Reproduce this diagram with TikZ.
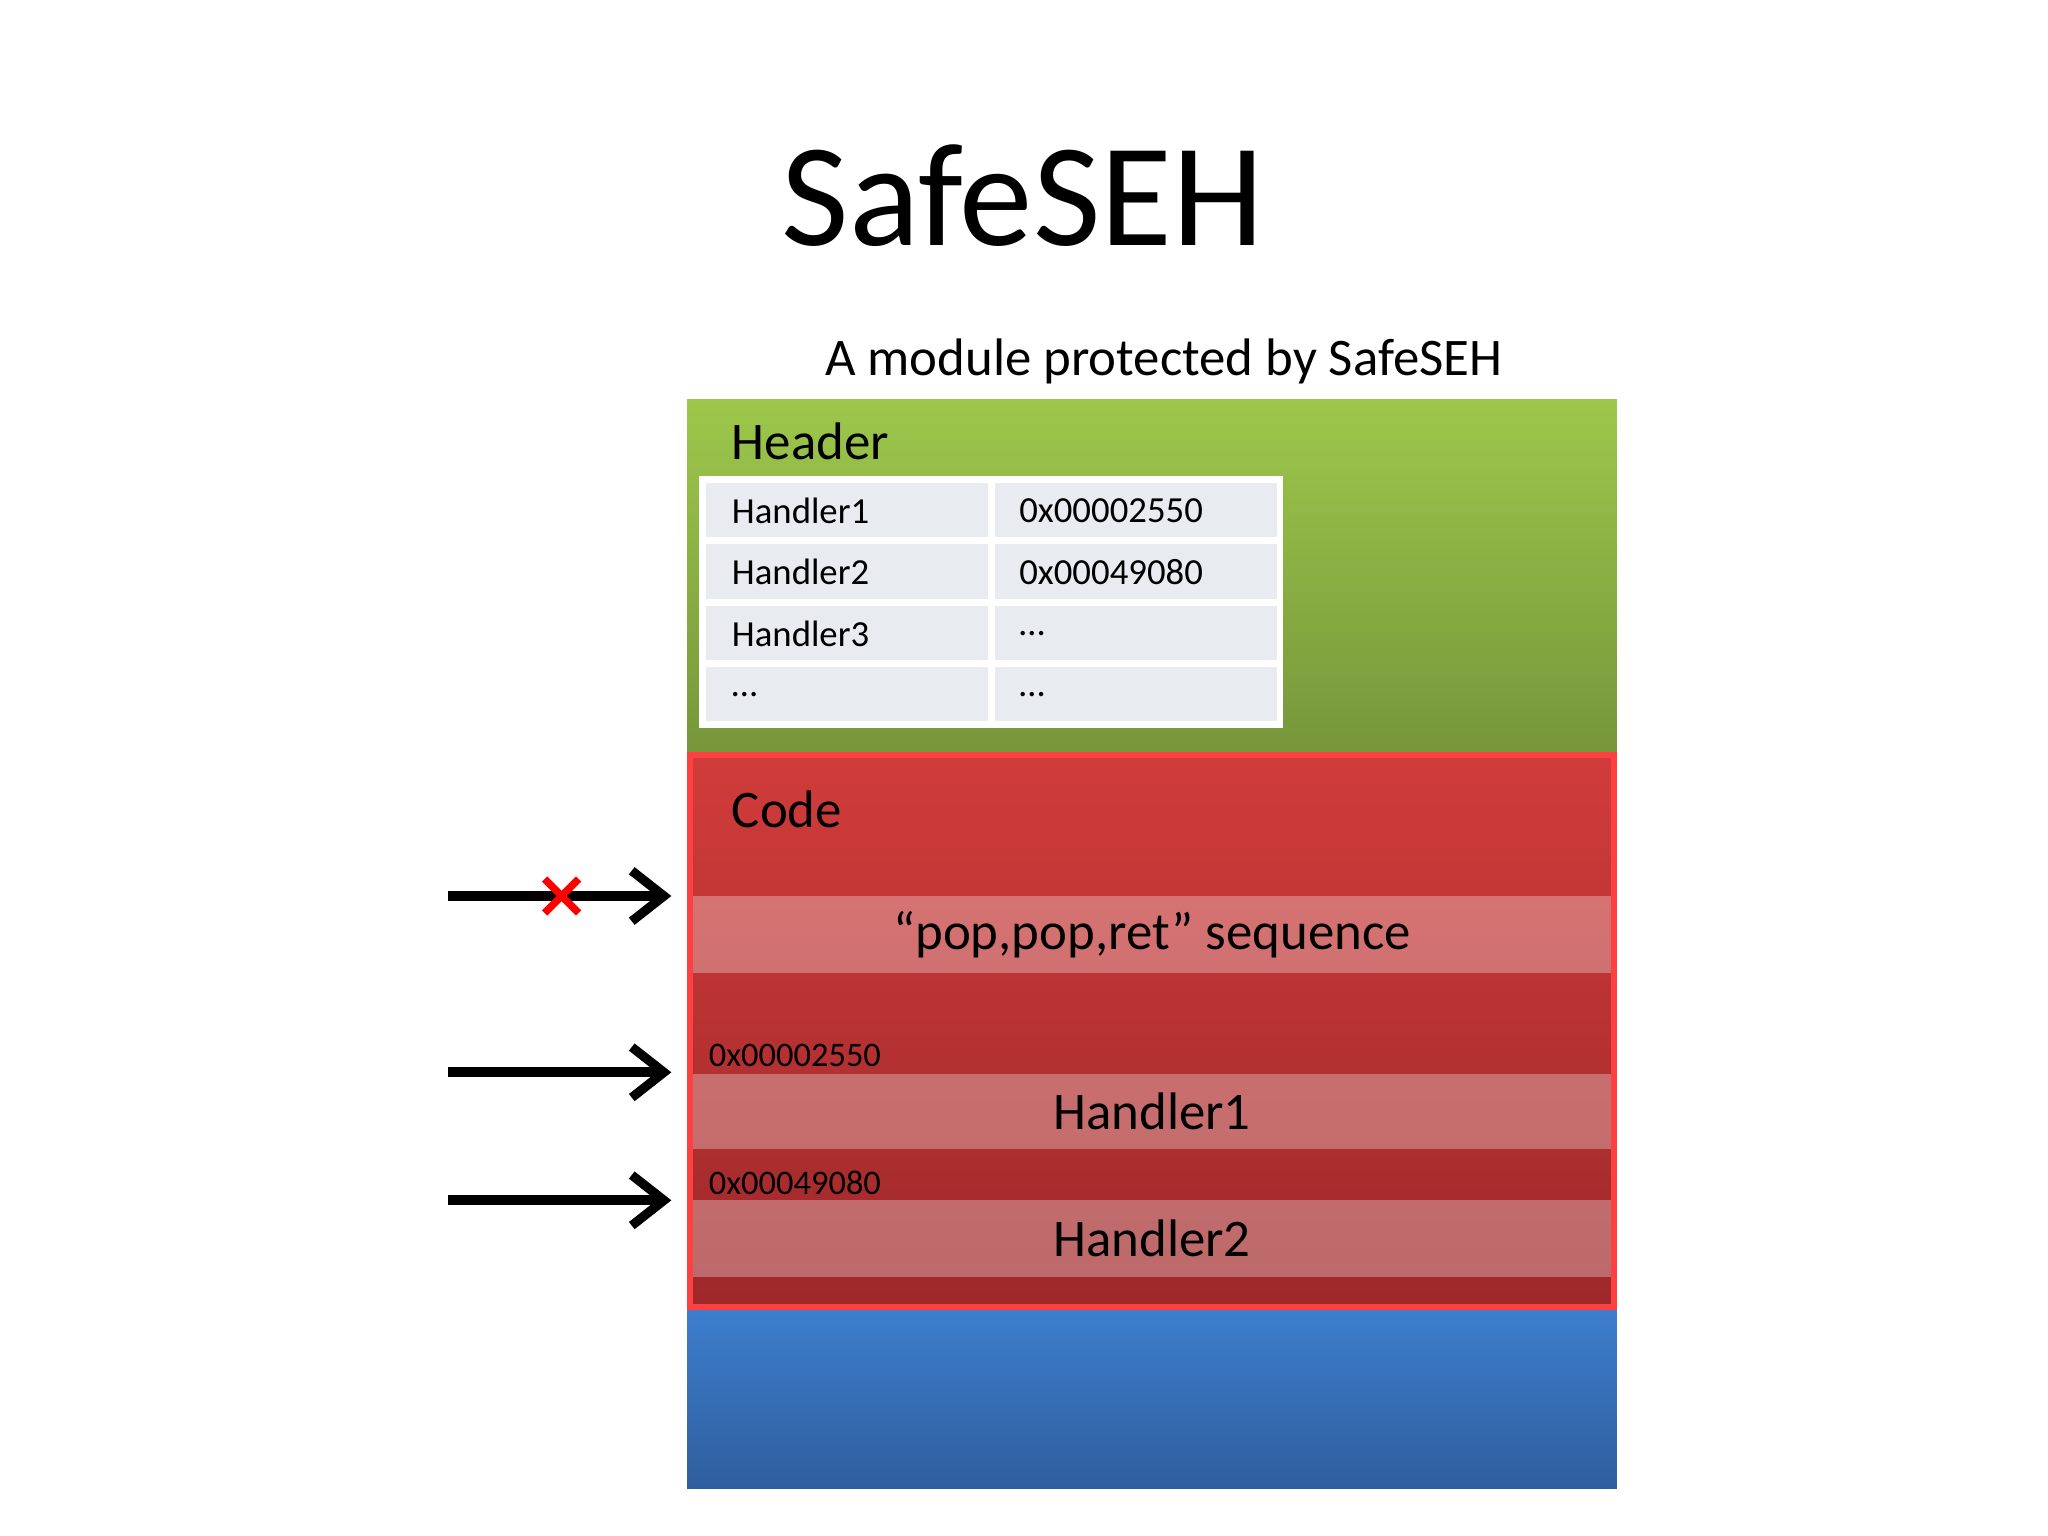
\documentclass[tikz,border=0pt]{standalone}
\usepackage{fontspec}
\setmainfont{Carlito}
\usetikzlibrary{arrows.meta}
\begin{document}
\begin{tikzpicture}[x=0.01cm,y=-0.01cm,
  cell/.style={draw=white,line width=1.2pt,fill=cellgray,minimum width=221\pgflinewidth,anchor=north west,inner sep=0pt},
  celltxt/.style={font=\fontsize{8}{9}\selectfont,anchor=west},
  band/.style={fill=white,fill opacity=0.3,draw=none},
  arr/.style={line width=2.2pt,-{Straight Barb[length=7pt,width=11pt,line width=2pt]}},
  lbl/.style={font=\fontsize{11.5}{13}\selectfont}]
\definecolor{cellgray}{HTML}{E8EBF0}
\definecolor{gtop}{HTML}{9DC74B}\definecolor{gbot}{HTML}{76963A}
\definecolor{rtop}{HTML}{D03C3A}\definecolor{rbot}{HTML}{9E282A}
\definecolor{btop}{HTML}{3D7ECC}\definecolor{bbot}{HTML}{2F5E9E}
\useasboundingbox (0,0) rectangle (1568,1176);
\node (title) at (783,150) {\fontsize{32}{36}\selectfont SafeSEH};
\node[lbl] (sub) at (891,277) {A module protected by SafeSEH};
% header
\shade[top color=gtop,bottom color=gbot] (526,306) rectangle (1238,577);
\node[lbl,anchor=west] (hdr) at (548,338) {Header};
\foreach \r/\a/\b in {0/Handler1/0x00002550,1/Handler2/0x00049080,2/Handler3/\dots,3/\dots/\dots}{
  \fill[cellgray] (538,367+47*\r) rectangle (759,414+47*\r);
  \fill[cellgray] (759,367+47*\r) rectangle (980,414+47*\r);
  \node[celltxt] (a\r) at (548,391+47*\r) {\a};
  \node[celltxt] (b\r) at (768,391+47*\r) {\b};
}
\draw[white,line width=1.5pt] (538,367) rectangle (980,555);
\foreach \r in {1,2,3}{\draw[white,line width=1.5pt] (538,367+47*\r) -- (980,367+47*\r);}
\draw[white,line width=1.5pt] (759,367) -- (759,555);
% code
\shade[top color=rtop,bottom color=rbot] (528,578) rectangle (1236,1001);
\fill[band] (528,686) rectangle (1236,745);
\fill[band] (528,822) rectangle (1236,880);
\fill[band] (528,919) rectangle (1236,978);
\draw[red!75!white,line width=1.3pt] (528,578) rectangle (1236,1001);
\node[lbl,anchor=west] (code) at (548,620) {Code};
\node[lbl] (ppr) at (882,716) {“pop,pop,ret” sequence};
\node[lbl] (h1) at (882,851) {Handler1};
\node[lbl] (h2) at (882,948) {Handler2};
\node[anchor=west,inner sep=0pt,font=\fontsize{7.5}{9}\selectfont] (ad1) at (542,808) {0x00002550};
\node[anchor=west,inner sep=0pt,font=\fontsize{7.5}{9}\selectfont] (ad2) at (542,906) {0x00049080};
% blue
\shade[top color=btop,bottom color=bbot] (526,1003) rectangle (1238,1140);
% arrows
\coordinate (s1) at (343,686); \coordinate (e1) at (514,686);
\coordinate (s2) at (343,821); \coordinate (e2) at (514,821);
\coordinate (s3) at (343,919); \coordinate (e3) at (514,919);
\draw[arr] (s1) -- (e1);
\draw[arr] (s2) -- (e2);
\draw[arr] (s3) -- (e3);
\draw[red,line width=1.6pt] (417,673) -- (443,699) (443,673) -- (417,699);
\end{tikzpicture}
\end{document}
